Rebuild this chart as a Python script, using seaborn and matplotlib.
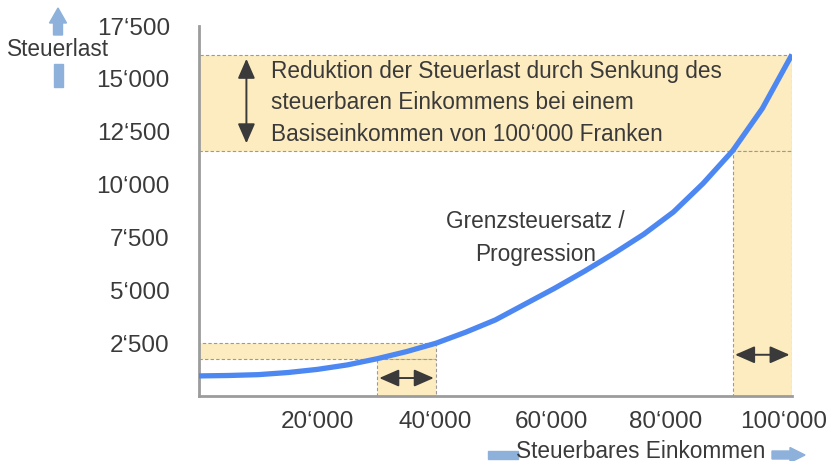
"""
Steuerlast vs. steuerbares Einkommen: Progression und Wirkung eines Abzugs
"""

import pandas as pd
import matplotlib
matplotlib.use('Agg')
import matplotlib.pyplot as plt
import matplotlib.transforms as mtransforms
from matplotlib.patches import Rectangle, FancyArrow
import seaborn as sns

# Tax curve (income in CHF, tax in CHF)
income = [0, 5000, 10000, 15000, 20000, 25000, 30000, 35000, 40000, 45000, 50000,
          55000, 60000, 65000, 70000, 75000, 80000, 85000, 90000, 95000, 100000]
tax = [950, 970, 1010, 1110, 1260, 1470, 1760, 2100, 2500, 3020, 3600,
       4350, 5100, 5900, 6750, 7650, 8700, 10050, 11600, 13600, 16150]

# Deduction examples (base income and reduced income)
low_base, low_reduced = 40000, 30000
high_base, high_reduced = 100000, 90000

x_ticks = [0, 10000, 20000, 30000, 40000, 50000, 60000, 70000, 80000, 90000, 100000]
x_labels = ['', '', '20‘000', '', '40‘000', '', '60‘000', '', '80‘000', '', '100‘000']
y_ticks = [0, 2500, 5000, 7500, 10000, 12500, 15000, 17500]
y_labels = ['', '2‘500', '5‘000', '7‘500', '10‘000', '12‘500', '15‘000', '17‘500']

note_text = ('Reduktion der Steuerlast durch Senkung des\n'
             'steuerbaren Einkommens bei einem\n'
             'Basiseinkommen von 100‘000 Franken')
curve_text = 'Grenzsteuersatz /\nProgression'

# Colours
LINE_BLUE = '#4d87f2'
BAND = '#fdecc0'
DASH = '#9a9a9a'
TEXT = '#3a3a3a'
AXIS = '#9c9c9c'
LABEL_BLUE = '#8db1da'

sns.set_style('white')
plt.rcParams['font.family'] = ['Liberation Sans', 'DejaVu Sans']
FS = 16.3
TICK_FS = 17.5

df = pd.DataFrame({'income': income, 'tax': tax})
tax_at = dict(zip(income, tax))

fig = plt.figure(figsize=(8.28, 4.61), dpi=100)
ax = fig.add_axes([0.2403, 0.1410, 0.7162, 0.8026])

# Shaded bands (behind the curve)
band_kw = dict(facecolor=BAND, edgecolor=DASH, lw=0.8, linestyle=(0, (3, 2)), zorder=1)
ax.add_patch(Rectangle((0, tax_at[low_reduced]), low_base,
                       tax_at[low_base] - tax_at[low_reduced], **band_kw))
ax.add_patch(Rectangle((low_reduced, 0), low_base - low_reduced,
                       tax_at[low_reduced], **band_kw))
ax.add_patch(Rectangle((0, tax_at[high_reduced]), high_base,
                       tax_at[high_base] - tax_at[high_reduced], **band_kw))
ax.add_patch(Rectangle((high_reduced, 0), high_base - high_reduced,
                       tax_at[high_reduced], **band_kw))

# Tax curve
sns.lineplot(data=df, x='income', y='tax', ax=ax, color=LINE_BLUE,
             linewidth=3.8, zorder=3, solid_capstyle='butt', solid_joinstyle='round')

# Double-headed arrows
arrow_kw = dict(arrowstyle='<|-|>,head_length=0.8,head_width=0.35',
                color=TEXT, lw=1.4, mutation_scale=15, shrinkA=0, shrinkB=0)
ax.annotate('', xy=(8000, 11950), xytext=(8000, 15950), arrowprops=arrow_kw, zorder=4)
ax.annotate('', xy=(low_reduced + 400, 850), xytext=(low_base - 400, 850),
            arrowprops=arrow_kw, zorder=4)
ax.annotate('', xy=(high_reduced + 400, 1950), xytext=(high_base - 400, 1950),
            arrowprops=arrow_kw, zorder=4)

# Texts in the plot
ax.text(12100, 13870, note_text, fontsize=FS, color=TEXT, ha='left', va='center',
        linespacing=1.48, zorder=5)
ax.text(56700, 7480, curve_text, fontsize=FS, color=TEXT, ha='center', va='center',
        linespacing=1.58, zorder=5)

# Axes styling
ax.set_xlim(0, 100000)
ax.set_ylim(0, 17500)
ax.set_xticks(x_ticks)
ax.set_xticklabels(x_labels)
ax.set_yticks(y_ticks)
ax.set_yticklabels(y_labels)
ax.set_xlabel('')
ax.set_ylabel('')
for side in ['top', 'right']:
    ax.spines[side].set_visible(False)
for side in ['left', 'bottom']:
    ax.spines[side].set_color(AXIS)
    ax.spines[side].set_linewidth(2)
ax.tick_params(axis='both', direction='out', length=7, width=1.5, color=AXIS,
               labelsize=TICK_FS, labelcolor=TEXT)
ax.tick_params(axis='y', pad=14)
ax.tick_params(axis='x', pad=4)

# the reference's x labels drift slightly left of their ticks
label_shift = [0, 0, 0, 0, -1, 0, -3, 0, -8, 0, -8]
for lab, dx in zip(ax.get_xticklabels(), label_shift):
    lab.set_transform(lab.get_transform() +
                      mtransforms.ScaledTranslation(dx / 100, 0, fig.dpi_scale_trans))

# Axis titles with the blue arrow decorations (figure inches)
fig.text(58 / 828, 1 - 50 / 461, 'Steuerlast', fontsize=FS, color=TEXT,
         ha='center', va='center')
fig.add_artist(FancyArrow(0.58, 4.61 - 0.35, 0, 0.27, width=0.09, head_width=0.17,
                          head_length=0.15, length_includes_head=True,
                          color=LABEL_BLUE, transform=fig.dpi_scale_trans))
fig.add_artist(Rectangle((0.535, 4.61 - 0.87), 0.09, 0.23, color=LABEL_BLUE,
                         transform=fig.dpi_scale_trans))

fig.text(641 / 828, 1 - 451 / 461, 'Steuerbares Einkommen', fontsize=FS, color=TEXT,
         ha='center', va='center')
fig.add_artist(Rectangle((4.88, 4.61 - 4.59), 0.30, 0.08, color=LABEL_BLUE,
                         transform=fig.dpi_scale_trans))
fig.add_artist(FancyArrow(7.72, 4.61 - 4.55, 0.33, 0, width=0.08, head_width=0.15,
                          head_length=0.15, length_includes_head=True,
                          color=LABEL_BLUE, transform=fig.dpi_scale_trans))

fig.savefig('out.png', dpi=100)
